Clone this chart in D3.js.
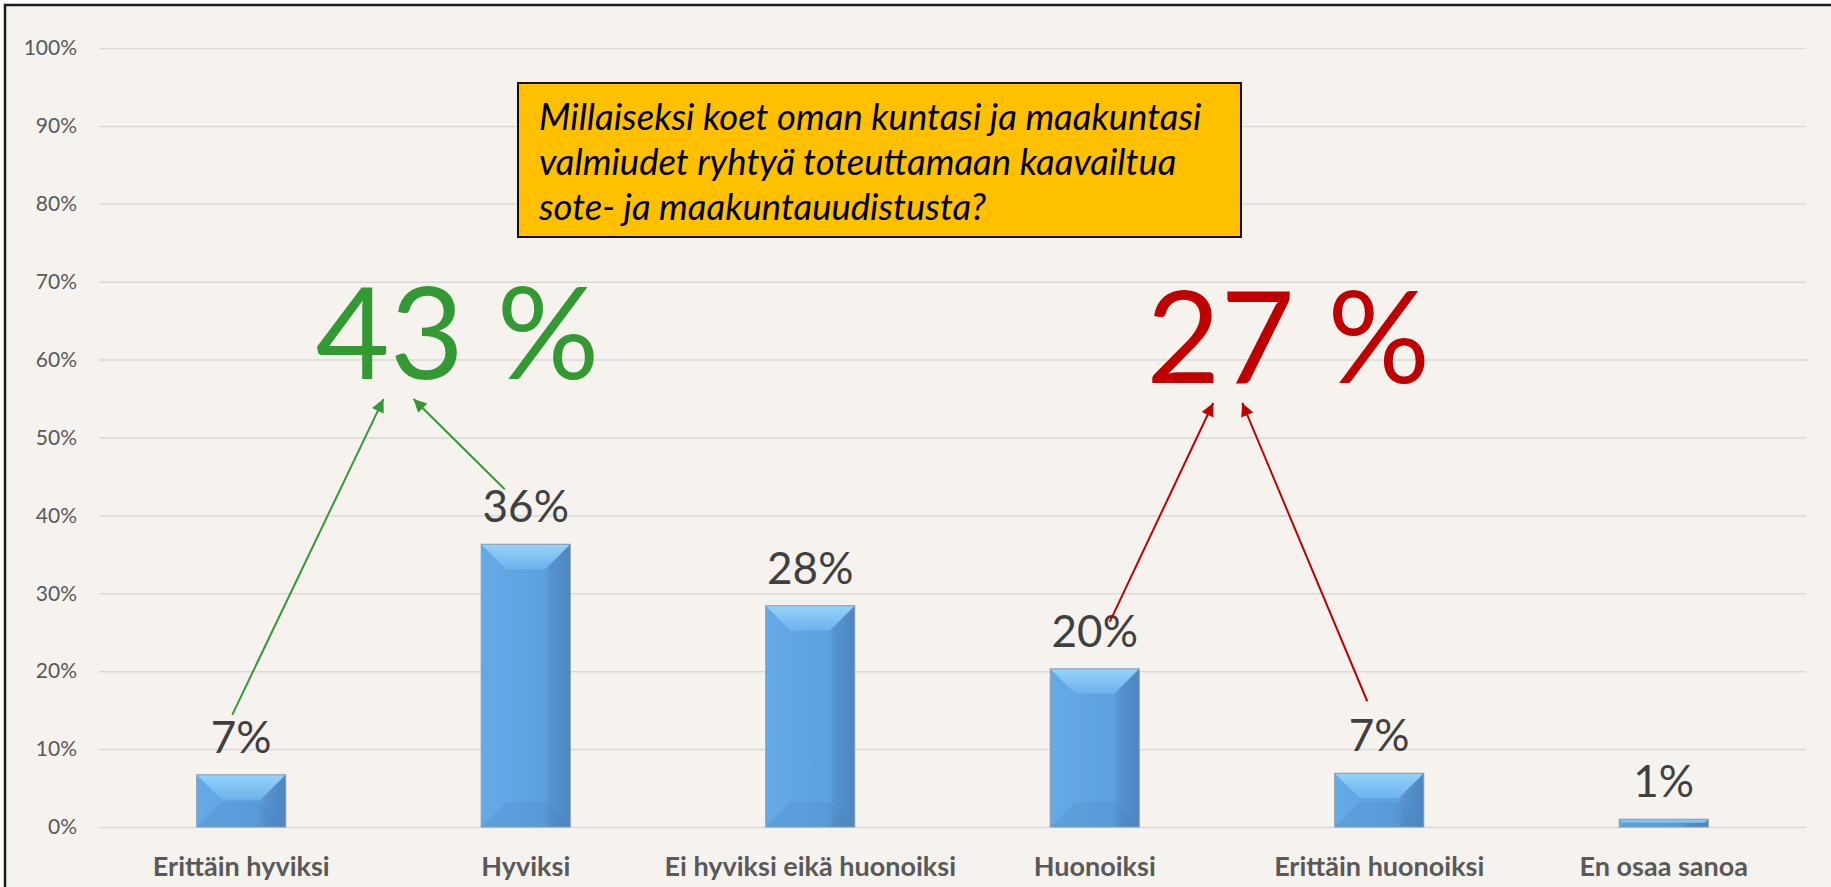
<!DOCTYPE html>
<html>
<head>
<meta charset="utf-8">
<script src="https://cdn.jsdelivr.net/npm/d3@7"></script>
<style>
  body { margin: 0; background: #ffffff; }
  svg { display: block; }
</style>
</head>
<body>
<script>
// data
var categories = ['Erittäin hyviksi', 'Hyviksi', 'Ei hyviksi eikä huonoiksi', 'Huonoiksi', 'Erittäin huonoiksi', 'En osaa sanoa'];
var shares = [0.067, 0.363, 0.284, 0.203, 0.069, 0.010];
var yTicks = [0, 0.1, 0.2, 0.3, 0.4, 0.5, 0.6, 0.7, 0.8, 0.9, 1.0];
var questionLines = ['Millaiseksi koet oman kuntasi ja maakuntasi', 'valmiudet ryhtyä toteuttamaan kaavailtua', 'sote- ja maakuntauudistusta?'];

// summary groups: which bars add up, where the big number sits
var groups = [
    { bars: [0, 1], color: '#339933', at: 0.76, level: 0.575 },
    { bars: [3, 4], color: '#C00000', at: 0.68 + 3, level: 0.57 }
];
// arrows from data labels up to big numbers
var arrows = [
    { group: 0, bar: 0, dx: -9, dy: -60, tip: -74 },
    { group: 0, bar: 1, dx: -21, dy: -55, tip: -44 },
    { group: 1, bar: 3, dx: 15, dy: -47, tip: -75 },
    { group: 1, bar: 4, dx: -12, dy: -72, tip: -46 }
];

var W = 1831, H = 887,
    plotL = 99, plotR = 1806, plotT = 48, plotB = 827,
    font = 'Lato, "Open Sans", sans-serif';

var svg = d3.select('body').append('svg')
    .attr('width', W).attr('height', H);

var defs = svg.append('defs');

// frame
svg.append('rect')
    .attr('x', 5).attr('y', 5)
    .attr('width', W + 10).attr('height', H + 10)
    .attr('fill', '#F6F3EF')
    .attr('stroke', '#1a1a1a').attr('stroke-width', 2.5);

var y = d3.scaleLinear().domain([0, 1]).range([plotB, plotT]);
var x = d3.scaleBand().domain(categories).range([plotL, plotR])
    .paddingInner(0.687).paddingOuter(0.3435);

var step = x.step(), bw = x.bandwidth();
function cx(i) { return x(categories[0]) + bw / 2 + i * step; }

// y axis + gridlines
var yAxis = svg.append('g')
    .attr('transform', 'translate(' + plotL + ',0)')
    .call(d3.axisLeft(y).tickValues(yTicks).tickFormat(d3.format('.0%'))
        .tickSize(-(plotR - plotL)).tickPadding(22));
yAxis.select('.domain').remove();
yAxis.selectAll('line').attr('stroke', '#D9D9D9').attr('stroke-width', 1.5);
yAxis.selectAll('text')
    .attr('fill', '#595959')
    .style('font-family', font)
    .style('font-size', '21px');

// x axis labels
var xAxis = svg.append('g')
    .attr('transform', 'translate(0,' + plotB + ')')
    .call(d3.axisBottom(x).tickSize(0).tickPadding(0));
xAxis.select('.domain').remove();
xAxis.selectAll('text')
    .attr('dy', null)
    .attr('y', 49)
    .attr('fill', '#595959')
    .style('font-family', font)
    .style('font-weight', 'bold')
    .style('font-size', '27px');

// bar gradients
var face = defs.append('linearGradient').attr('id', 'face')
    .attr('x1', 0).attr('x2', 1).attr('y1', 0).attr('y2', 0);
face.append('stop').attr('offset', 0).attr('stop-color', '#64AAE6');
face.append('stop').attr('offset', 0.7).attr('stop-color', '#5DA2E0');
face.append('stop').attr('offset', 0.78).attr('stop-color', '#5592CF');
face.append('stop').attr('offset', 1).attr('stop-color', '#4D86C0');
var topG = defs.append('linearGradient').attr('id', 'topg')
    .attr('x1', 0).attr('x2', 0).attr('y1', 0).attr('y2', 1);
topG.append('stop').attr('offset', 0).attr('stop-color', '#96D3FA');
topG.append('stop').attr('offset', 1).attr('stop-color', '#6CB2EB');

var bars = svg.append('g').selectAll('g')
    .data(shares).join('g');

bars.each(function(v, i) {
    var g = d3.select(this),
        x0 = x(categories[i]), x1 = x0 + bw,
        y0 = y(v), y1 = y(0),
        h = y1 - y0,
        b = Math.min(25, h / 2, bw / 2);
    g.append('rect')
        .attr('x', x0).attr('y', y0)
        .attr('width', bw).attr('height', h)
        .attr('fill', 'url(#face)');
    var poly = function(pts, fill, op) {
        g.append('polygon')
            .attr('points', pts.map(function(p) { return p.join(','); }).join(' '))
            .attr('fill', fill).attr('opacity', op);
    };
    poly([[x0, y0], [x1, y0], [x1 - b, y0 + b], [x0 + b, y0 + b]], 'url(#topg)', 1);
    poly([[x0, y1], [x1, y1], [x1 - b, y1 - b], [x0 + b, y1 - b]], '#3F79B4', 0.18);
    g.append('rect')
        .attr('x', x0).attr('y', y0)
        .attr('width', bw).attr('height', h)
        .attr('fill', 'none')
        .attr('stroke', '#8C9BAA').attr('stroke-width', 1);
});

// data labels
svg.append('g').selectAll('text')
    .data(shares).join('text')
    .attr('x', function(d, i) { return cx(i); })
    .attr('y', function(d) { return y(d) - 22; })
    .attr('text-anchor', 'middle')
    .attr('fill', '#404040')
    .style('font-family', font)
    .style('font-size', '44px')
    .text(d3.format('.0%'));

// question box
var box = svg.append('g');
box.append('rect')
    .attr('x', 518).attr('y', 83)
    .attr('width', 723).attr('height', 154)
    .attr('fill', '#FFC000')
    .attr('stroke', '#111').attr('stroke-width', 2);
box.selectAll('text')
    .data(questionLines).join('text')
    .attr('x', 539)
    .attr('y', function(d, i) { return 130 + i * 45; })
    .attr('fill', '#000')
    .style('font-family', font)
    .style('font-style', 'italic')
    .style('font-size', '36.5px')
    .text(function(d) { return d; });

// big summary numbers
groups.forEach(function(g, k) {
    var sum = d3.sum(g.bars, function(i) { return shares[i]; });
    g.x = cx(g.at);
    g.y = y(g.level);
    defs.append('marker')
        .attr('id', 'head' + k)
        .attr('markerUnits', 'userSpaceOnUse')
        .attr('viewBox', '0 0 10 10')
        .attr('refX', 10).attr('refY', 5)
        .attr('markerWidth', 17).attr('markerHeight', 13)
        .attr('orient', 'auto')
        .append('path')
        .attr('d', 'M0,0L10,5L0,10z')
        .attr('fill', g.color);
    svg.append('text')
        .attr('x', g.x).attr('y', g.y)
        .attr('text-anchor', 'middle')
        .attr('fill', g.color)
        .style('font-family', font)
        .style('font-size', '128px')
        .text(Math.round(sum * 100) + ' %');
});

svg.append('g').selectAll('line')
    .data(arrows).join('line')
    .attr('x1', function(a) { return cx(a.bar) + a.dx; })
    .attr('y1', function(a) { return y(shares[a.bar]) + a.dy; })
    .attr('x2', function(a) { return groups[a.group].x + a.tip; })
    .attr('y2', function(a) { return groups[a.group].y + 20; })
    .attr('stroke', function(a) { return groups[a.group].color; })
    .attr('stroke-width', 2)
    .attr('marker-end', function(a) { return 'url(#head' + a.group + ')'; });
</script>
</body>
</html>
